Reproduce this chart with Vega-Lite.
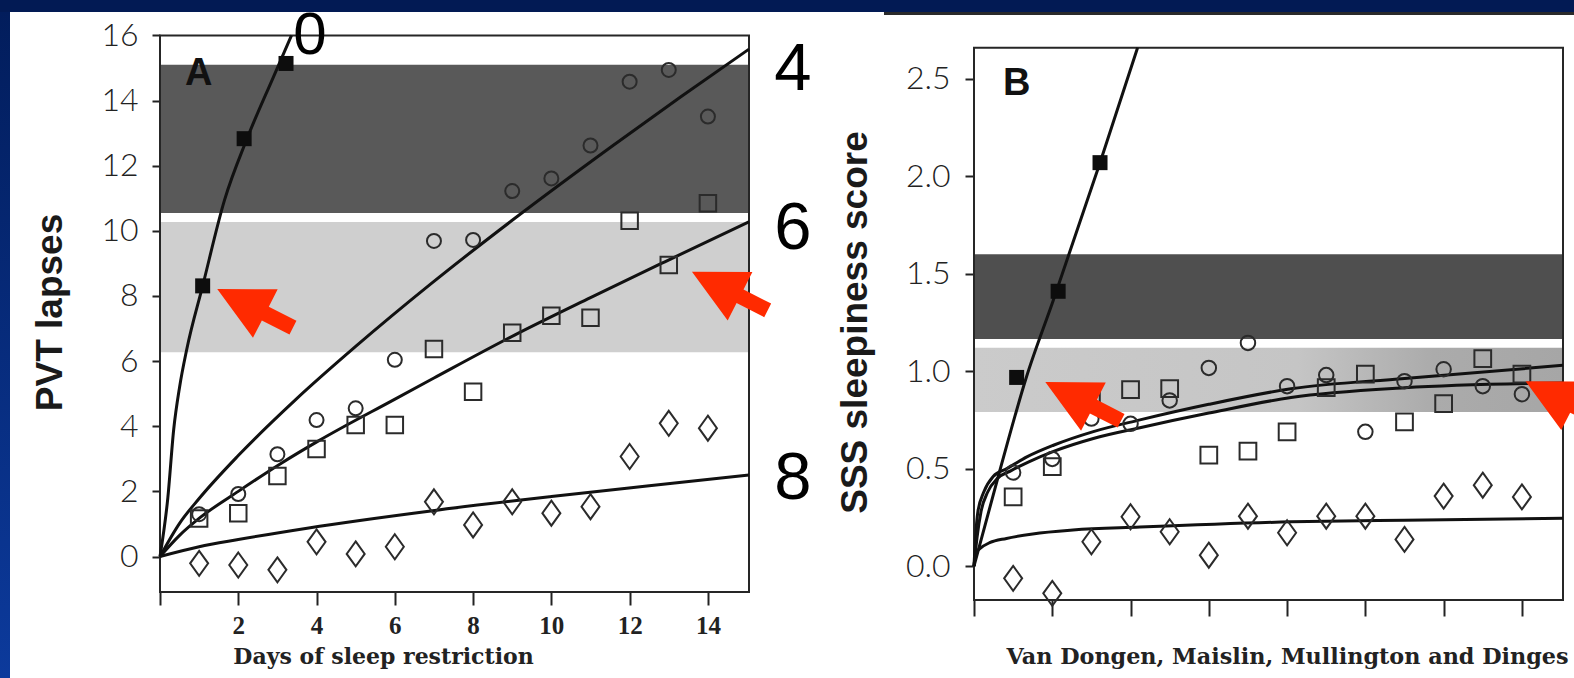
{
  "$schema": "https://vega.github.io/schema/vega-lite/v6.json",
  "padding": 0,
  "background": "white",
  "config": {"view": {"stroke": null}, "font": "Liberation Sans"},
  "datasets": {
    "bandsA": [{"band": "high", "lo": 10.55, "hi": 15.1}, {"band": "mid", "lo": 6.27, "hi": 10.27}],
    "bandsB": [{"band": "high", "lo": 1.165, "hi": 1.6}, {"band": "mid", "lo": 0.79, "hi": 1.12}],
    "ptsA": [
      {"sleep": "0h", "day": 1.09, "value": 8.31}, {"sleep": "0h", "day": 2.15, "value": 12.83}, {"sleep": "0h", "day": 3.22, "value": 15.14},
      {"sleep": "4h", "day": 1, "value": 1.3}, {"sleep": "4h", "day": 2, "value": 1.92}, {"sleep": "4h", "day": 3, "value": 3.14}, {"sleep": "4h", "day": 4, "value": 4.19}, {"sleep": "4h", "day": 5, "value": 4.55}, {"sleep": "4h", "day": 6, "value": 6.04}, {"sleep": "4h", "day": 7, "value": 9.69}, {"sleep": "4h", "day": 8, "value": 9.72}, {"sleep": "4h", "day": 9, "value": 11.22}, {"sleep": "4h", "day": 10, "value": 11.61}, {"sleep": "4h", "day": 11, "value": 12.62}, {"sleep": "4h", "day": 12, "value": 14.58}, {"sleep": "4h", "day": 13, "value": 14.94}, {"sleep": "4h", "day": 14, "value": 13.51},
      {"sleep": "6h", "day": 1, "value": 1.17}, {"sleep": "6h", "day": 2, "value": 1.33}, {"sleep": "6h", "day": 3, "value": 2.47}, {"sleep": "6h", "day": 4, "value": 3.3}, {"sleep": "6h", "day": 5, "value": 4.04}, {"sleep": "6h", "day": 6, "value": 4.04}, {"sleep": "6h", "day": 7, "value": 6.37}, {"sleep": "6h", "day": 8, "value": 5.06}, {"sleep": "6h", "day": 9, "value": 6.87}, {"sleep": "6h", "day": 10, "value": 7.39}, {"sleep": "6h", "day": 11, "value": 7.33}, {"sleep": "6h", "day": 12, "value": 10.31}, {"sleep": "6h", "day": 13, "value": 8.95}, {"sleep": "6h", "day": 14, "value": 10.85},
      {"sleep": "8h", "day": 1, "value": -0.21}, {"sleep": "8h", "day": 2, "value": -0.26}, {"sleep": "8h", "day": 3, "value": -0.41}, {"sleep": "8h", "day": 4, "value": 0.45}, {"sleep": "8h", "day": 5, "value": 0.08}, {"sleep": "8h", "day": 6, "value": 0.3}, {"sleep": "8h", "day": 7, "value": 1.68}, {"sleep": "8h", "day": 8, "value": 0.97}, {"sleep": "8h", "day": 9, "value": 1.68}, {"sleep": "8h", "day": 10, "value": 1.33}, {"sleep": "8h", "day": 11, "value": 1.53}, {"sleep": "8h", "day": 12, "value": 3.07}, {"sleep": "8h", "day": 13, "value": 4.09}, {"sleep": "8h", "day": 14, "value": 3.94}
    ],
    "ptsB": [
      {"sleep": "0h", "day": 1.09, "value": 0.968}, {"sleep": "0h", "day": 2.15, "value": 1.41}, {"sleep": "0h", "day": 3.22, "value": 2.07},
      {"sleep": "4h", "day": 1, "value": 0.48}, {"sleep": "4h", "day": 2, "value": 0.55}, {"sleep": "4h", "day": 3, "value": 0.757}, {"sleep": "4h", "day": 4, "value": 0.73}, {"sleep": "4h", "day": 5, "value": 0.85}, {"sleep": "4h", "day": 6, "value": 1.017}, {"sleep": "4h", "day": 7, "value": 1.145}, {"sleep": "4h", "day": 8, "value": 0.923}, {"sleep": "4h", "day": 9, "value": 0.98}, {"sleep": "4h", "day": 10, "value": 0.689}, {"sleep": "4h", "day": 11, "value": 0.949}, {"sleep": "4h", "day": 12, "value": 1.01}, {"sleep": "4h", "day": 13, "value": 0.923}, {"sleep": "4h", "day": 14, "value": 0.882},
      {"sleep": "6h", "day": 1, "value": 0.355}, {"sleep": "6h", "day": 2, "value": 0.51}, {"sleep": "6h", "day": 3, "value": 0.877}, {"sleep": "6h", "day": 4, "value": 0.906}, {"sleep": "6h", "day": 5, "value": 0.91}, {"sleep": "6h", "day": 6, "value": 0.569}, {"sleep": "6h", "day": 7, "value": 0.59}, {"sleep": "6h", "day": 8, "value": 0.689}, {"sleep": "6h", "day": 9, "value": 0.916}, {"sleep": "6h", "day": 10, "value": 0.985}, {"sleep": "6h", "day": 11, "value": 0.74}, {"sleep": "6h", "day": 12, "value": 0.834}, {"sleep": "6h", "day": 13, "value": 1.065}, {"sleep": "6h", "day": 14, "value": 0.985},
      {"sleep": "8h", "day": 1, "value": -0.063}, {"sleep": "8h", "day": 2, "value": -0.14}, {"sleep": "8h", "day": 3, "value": 0.125}, {"sleep": "8h", "day": 4, "value": 0.253}, {"sleep": "8h", "day": 5, "value": 0.176}, {"sleep": "8h", "day": 6, "value": 0.056}, {"sleep": "8h", "day": 7, "value": 0.256}, {"sleep": "8h", "day": 8, "value": 0.171}, {"sleep": "8h", "day": 9, "value": 0.256}, {"sleep": "8h", "day": 10, "value": 0.256}, {"sleep": "8h", "day": 11, "value": 0.137}, {"sleep": "8h", "day": 12, "value": 0.359}, {"sleep": "8h", "day": 13, "value": 0.415}, {"sleep": "8h", "day": 14, "value": 0.355}
    ],
    "linesA": [
      {"sleep": "0h", "day": 0, "value": 0}, {"sleep": "0h", "day": 0.2, "value": 1.8}, {"sleep": "0h", "day": 0.35, "value": 3.9}, {"sleep": "0h", "day": 0.5, "value": 5.2}, {"sleep": "0h", "day": 0.68, "value": 6.34}, {"sleep": "0h", "day": 1.09, "value": 8.31}, {"sleep": "0h", "day": 1.65, "value": 10.95}, {"sleep": "0h", "day": 2.21, "value": 12.79}, {"sleep": "0h", "day": 2.9, "value": 14.73}, {"sleep": "0h", "day": 3.36, "value": 16.0},
      {"sleep": "4h", "day": 0, "value": 0}, {"sleep": "4h", "day": 0.5, "value": 1.02}, {"sleep": "4h", "day": 1, "value": 1.78}, {"sleep": "4h", "day": 2, "value": 3.1}, {"sleep": "4h", "day": 3.46, "value": 4.81}, {"sleep": "4h", "day": 5, "value": 6.45}, {"sleep": "4h", "day": 6.92, "value": 8.37}, {"sleep": "4h", "day": 9.05, "value": 10.37}, {"sleep": "4h", "day": 11.54, "value": 12.59}, {"sleep": "4h", "day": 13.3, "value": 14.11}, {"sleep": "4h", "day": 15.05, "value": 15.58},
      {"sleep": "6h", "day": 0, "value": 0}, {"sleep": "6h", "day": 0.5, "value": 0.65}, {"sleep": "6h", "day": 1.03, "value": 1.2}, {"sleep": "6h", "day": 2, "value": 2.0}, {"sleep": "6h", "day": 3.08, "value": 2.85}, {"sleep": "6h", "day": 4.05, "value": 3.55}, {"sleep": "6h", "day": 5.97, "value": 4.81}, {"sleep": "6h", "day": 7, "value": 5.48}, {"sleep": "6h", "day": 9.06, "value": 6.8}, {"sleep": "6h", "day": 11, "value": 7.95}, {"sleep": "6h", "day": 12.9, "value": 9.05}, {"sleep": "6h", "day": 15.05, "value": 10.28},
      {"sleep": "8h", "day": 0, "value": 0}, {"sleep": "8h", "day": 1, "value": 0.3}, {"sleep": "8h", "day": 2, "value": 0.52}, {"sleep": "8h", "day": 3.76, "value": 0.87}, {"sleep": "8h", "day": 6.92, "value": 1.4}, {"sleep": "8h", "day": 10, "value": 1.84}, {"sleep": "8h", "day": 12.5, "value": 2.17}, {"sleep": "8h", "day": 15.05, "value": 2.5}
    ],
    "linesB": [
      {"sleep": "0h", "day": 0, "value": 0}, {"sleep": "0h", "day": 0.66, "value": 0.49}, {"sleep": "0h", "day": 1.34, "value": 0.97}, {"sleep": "0h", "day": 2.02, "value": 1.36}, {"sleep": "0h", "day": 3.22, "value": 2.07}, {"sleep": "0h", "day": 4.18, "value": 2.66},
      {"sleep": "6h", "day": 0, "value": 0}, {"sleep": "6h", "day": 0.04, "value": 0.15}, {"sleep": "6h", "day": 0.1, "value": 0.28}, {"sleep": "6h", "day": 0.25, "value": 0.38}, {"sleep": "6h", "day": 0.49, "value": 0.46}, {"sleep": "6h", "day": 0.84, "value": 0.5}, {"sleep": "6h", "day": 1.35, "value": 0.56}, {"sleep": "6h", "day": 2.03, "value": 0.62}, {"sleep": "6h", "day": 3.05, "value": 0.69}, {"sleep": "6h", "day": 4.24, "value": 0.75}, {"sleep": "6h", "day": 6, "value": 0.83}, {"sleep": "6h", "day": 8.1, "value": 0.91}, {"sleep": "6h", "day": 11, "value": 0.963}, {"sleep": "6h", "day": 15.05, "value": 1.03},
      {"sleep": "4h", "day": 0, "value": 0}, {"sleep": "4h", "day": 0.08, "value": 0.15}, {"sleep": "4h", "day": 0.18, "value": 0.28}, {"sleep": "4h", "day": 0.35, "value": 0.38}, {"sleep": "4h", "day": 0.6, "value": 0.45}, {"sleep": "4h", "day": 0.95, "value": 0.49}, {"sleep": "4h", "day": 1.4, "value": 0.535}, {"sleep": "4h", "day": 2.05, "value": 0.59}, {"sleep": "4h", "day": 3.05, "value": 0.655}, {"sleep": "4h", "day": 4.24, "value": 0.71}, {"sleep": "4h", "day": 6, "value": 0.785}, {"sleep": "4h", "day": 8.1, "value": 0.865}, {"sleep": "4h", "day": 11, "value": 0.915}, {"sleep": "4h", "day": 15.05, "value": 0.94},
      {"sleep": "8h", "day": 0, "value": 0}, {"sleep": "8h", "day": 0.05, "value": 0.07}, {"sleep": "8h", "day": 0.15, "value": 0.09}, {"sleep": "8h", "day": 0.4, "value": 0.12}, {"sleep": "8h", "day": 0.83, "value": 0.142}, {"sleep": "8h", "day": 1.5, "value": 0.165}, {"sleep": "8h", "day": 2.53, "value": 0.185}, {"sleep": "8h", "day": 4.24, "value": 0.2}, {"sleep": "8h", "day": 8.1, "value": 0.227}, {"sleep": "8h", "day": 11, "value": 0.235}, {"sleep": "8h", "day": 15.05, "value": 0.245}
    ],
    "notesA": [
      {"kind": "zero", "label": "0", "day": 3.83, "value": 15.42},
      {"kind": "hours", "label": "4", "day": 16.17, "value": 14.33},
      {"kind": "hours", "label": "6", "day": 16.17, "value": 9.44},
      {"kind": "hours", "label": "8", "day": 16.17, "value": 1.76},
      {"kind": "panel", "label": "A", "day": 0.64, "value": 14.48}
    ],
    "notesB": [{"kind": "panel", "label": "B", "day": 0.74, "value": 2.415}],
    "arrowsA": [{"day": 2.43, "value": 7.62}, {"day": 14.56, "value": 8.15}],
    "arrowsB": [{"day": 2.79, "value": 0.845}, {"day": 15.06, "value": 0.849}]
  },
  "spacing": 0,
  "bounds": "flush",
  "vconcat": [
    {
      "width": 1574, "height": 12,
      "data": {"values": [{}]},
      "mark": {"type": "text", "text": ""},
      "view": {"fill": "#021a54", "stroke": null}
    },
    {
      "spacing": 0,
      "bounds": "flush",
      "hconcat": [
        {
          "width": 10, "height": 666,
          "data": {"values": [{}]},
          "mark": {"type": "text", "text": ""},
          "view": {"fill": {"gradient": "linear", "x1": 0, "y1": 0, "x2": 0, "y2": 1, "stops": [{"offset": 0, "color": "#021d5c"}, {"offset": 1, "color": "#0c3a9c"}]}, "stroke": null}
        },
        {
          "width": 150, "height": 666,
          "data": {"values": [{}]},
          "mark": {"type": "text", "text": ""}
        },
        {
          "width": 589, "height": 580,
          "layer": [
            {
              "data": {"name": "bandsA"},
              "transform": [{"filter": "datum.band === 'high'"}],
              "mark": {"type": "rect", "fill": "#595959"},
              "encoding": {
                "x": {"datum": 0, "type": "quantitative"},
                "x2": {"datum": 15.05},
                "y": {"field": "lo", "type": "quantitative"},
                "y2": {"field": "hi"}
              }
            },
            {
              "data": {"name": "bandsA"},
              "transform": [{"filter": "datum.band === 'mid'"}],
              "mark": {"type": "rect", "fill": "#cfcfcf"},
              "encoding": {
                "x": {"datum": 0, "type": "quantitative"},
                "x2": {"datum": 15.05},
                "y": {"field": "lo", "type": "quantitative"},
                "y2": {"field": "hi"}
              }
            },
            {
              "data": {"values": [{}]},
              "mark": {"type": "rect", "fill": "transparent", "stroke": "#262626", "strokeWidth": 2},
              "encoding": {
                "x": {"datum": 0, "type": "quantitative"},
                "x2": {"datum": 15.05},
                "y": {"datum": -1.09, "type": "quantitative"},
                "y2": {"datum": 16}
              }
            },
            {
              "data": {"name": "linesA"},
              "mark": {"type": "line", "stroke": "#111", "strokeWidth": 3, "interpolate": "monotone"},
              "encoding": {
                "x": {"field": "day", "type": "quantitative", "scale": {"domain": [0, 15.05], "nice": false, "zero": false},
                  "axis": {"values": [0, 2, 4, 6, 8, 10, 12, 14], "labelExpr": "datum.value === 0 ? '' : datum.label", "domain": false, "grid": false, "ticks": true, "tickSize": 13, "tickWidth": 2, "tickColor": "#222", "labels": true, "labelFont": "Liberation Serif", "labelFontWeight": "bold", "labelFontSize": 25, "labelColor": "#222", "labelPadding": 8, "labelFlush": false, "labelOverlap": false, "title": "Days of sleep restriction", "titleFont": "DejaVu Serif", "titleFontWeight": "bold", "titleFontSize": 22, "titleColor": "#222", "titleX": 223, "titleY": 71, "titleAlign": "center", "titleBaseline": "alphabetic"}},
                "y": {"field": "value", "type": "quantitative", "scale": {"domain": [-1.09, 16.72], "nice": false, "zero": false},
                  "axis": {"values": [0, 2, 4, 6, 8, 10, 12, 14, 16], "domain": false, "grid": false, "ticks": true, "tickSize": 8, "tickWidth": 2, "tickColor": "#222", "labels": true, "labelFont": "Lato", "labelFontWeight": 300, "labelFontSize": 32, "labelColor": "#222", "labelPadding": 14, "labelFlush": false, "labelOverlap": false, "title": "PVT lapses", "titleFont": "Liberation Sans", "titleFontWeight": "bold", "titleFontSize": 37, "titleColor": "#1a1a1a", "titleX": -110, "titleY": 300, "titleAngle": -90, "titleAlign": "center", "titleBaseline": "middle"}},
                "detail": {"field": "sleep"}
              }
            },
            {
              "data": {"name": "ptsA"},
              "transform": [{"filter": "datum.sleep === '0h'"}],
              "mark": {"type": "point", "shape": "square", "size": 225, "filled": true, "fill": "#0d0d0d", "opacity": 1},
              "encoding": {"x": {"field": "day", "type": "quantitative"}, "y": {"field": "value", "type": "quantitative"}}
            },
            {
              "data": {"name": "ptsA"},
              "transform": [{"filter": "datum.sleep === '4h'"}],
              "mark": {"type": "point", "shape": "circle", "size": 196, "filled": false, "stroke": "#2b2b2b", "strokeWidth": 2, "opacity": 1},
              "encoding": {"x": {"field": "day", "type": "quantitative"}, "y": {"field": "value", "type": "quantitative"}}
            },
            {
              "data": {"name": "ptsA"},
              "transform": [{"filter": "datum.sleep === '6h'"}],
              "mark": {"type": "point", "shape": "square", "size": 272, "filled": false, "stroke": "#2b2b2b", "strokeWidth": 2, "opacity": 1},
              "encoding": {"x": {"field": "day", "type": "quantitative"}, "y": {"field": "value", "type": "quantitative"}}
            },
            {
              "data": {"name": "ptsA"},
              "transform": [{"filter": "datum.sleep === '8h'"}],
              "mark": {"type": "point", "shape": "M 0 -1 L 0.72 0 L 0 1 L -0.72 0 Z", "size": 625, "filled": false, "stroke": "#2b2b2b", "strokeWidth": 2, "opacity": 1},
              "encoding": {"x": {"field": "day", "type": "quantitative"}, "y": {"field": "value", "type": "quantitative"}}
            },
            {
              "data": {"name": "notesA"},
              "transform": [{"filter": "datum.kind === 'zero'"}],
              "mark": {"type": "text", "font": "Liberation Sans", "fontSize": 60, "align": "center", "baseline": "alphabetic", "color": "#000"},
              "encoding": {"x": {"field": "day", "type": "quantitative"}, "y": {"field": "value", "type": "quantitative"}, "text": {"field": "label"}}
            },
            {
              "data": {"name": "notesA"},
              "transform": [{"filter": "datum.kind === 'hours'"}],
              "mark": {"type": "text", "font": "Liberation Sans", "fontSize": 67, "align": "center", "baseline": "alphabetic", "color": "#000"},
              "encoding": {"x": {"field": "day", "type": "quantitative"}, "y": {"field": "value", "type": "quantitative"}, "text": {"field": "label"}}
            },
            {
              "data": {"name": "notesA"},
              "transform": [{"filter": "datum.kind === 'panel'"}],
              "mark": {"type": "text", "font": "Liberation Sans", "fontWeight": "bold", "fontSize": 38, "align": "left", "baseline": "alphabetic", "color": "#111"},
              "encoding": {"x": {"field": "day", "type": "quantitative"}, "y": {"field": "value", "type": "quantitative"}, "text": {"field": "label"}}
            },
            {
              "data": {"name": "arrowsA"},
              "mark": {"type": "point", "shape": "M -1 0 L 0.27 -0.64 L 0.27 -0.18 L 1 -0.18 L 1 0.18 L 0.27 0.18 L 0.27 0.64 Z", "size": 7225, "angle": 27, "filled": true, "fill": "#ff2a00", "strokeWidth": 0, "opacity": 1},
              "encoding": {"x": {"field": "day", "type": "quantitative"}, "y": {"field": "value", "type": "quantitative"}}
            }
          ]
        },
        {
          "width": 225, "height": 666,
          "data": {"values": [{}]},
          "mark": {"type": "text", "text": ""}
        },
        {
          "width": 589, "height": 588,
          "layer": [
            {
              "data": {"name": "bandsB"},
              "transform": [{"filter": "datum.band === 'high'"}],
              "mark": {"type": "rect", "fill": "#4f4f4f"},
              "encoding": {
                "x": {"datum": 0, "type": "quantitative"},
                "x2": {"datum": 15.05},
                "y": {"field": "lo", "type": "quantitative"},
                "y2": {"field": "hi"}
              }
            },
            {
              "data": {"name": "bandsB"},
              "transform": [{"filter": "datum.band === 'mid'"}],
              "mark": {"type": "rect", "fill": {"gradient": "linear", "x1": 0, "y1": 0, "x2": 1, "y2": 0, "stops": [{"offset": 0, "color": "#cbcbcb"}, {"offset": 0.55, "color": "#c5c5c5"}, {"offset": 0.78, "color": "#ababab"}, {"offset": 1, "color": "#a6a6a6"}]}},
              "encoding": {
                "x": {"datum": 0, "type": "quantitative"},
                "x2": {"datum": 15.05},
                "y": {"field": "lo", "type": "quantitative"},
                "y2": {"field": "hi"}
              }
            },
            {
              "data": {"values": [{}]},
              "mark": {"type": "rect", "fill": "transparent", "stroke": "#262626", "strokeWidth": 2},
              "encoding": {
                "x": {"datum": 0, "type": "quantitative"},
                "x2": {"datum": 15.05},
                "y": {"datum": -0.174, "type": "quantitative"},
                "y2": {"datum": 2.66}
              }
            },
            {
              "data": {"values": [{}]},
              "mark": {"type": "rule", "stroke": "#2a2a2a", "strokeWidth": 3},
              "encoding": {
                "x": {"datum": -2.3, "type": "quantitative"},
                "x2": {"datum": 15.4},
                "y": {"datum": 2.835, "type": "quantitative"}
              }
            },
            {
              "data": {"name": "linesB"},
              "mark": {"type": "line", "stroke": "#111", "strokeWidth": 3, "interpolate": "monotone"},
              "encoding": {
                "x": {"field": "day", "type": "quantitative", "scale": {"domain": [0, 15.05], "nice": false, "zero": false},
                  "axis": {"values": [0, 2, 4, 6, 8, 10, 12, 14], "labels": false, "domain": false, "grid": false, "ticks": true, "tickSize": 16, "tickWidth": 2, "tickColor": "#222", "title": "Van Dongen, Maislin, Mullington and Dinges", "titleFont": "DejaVu Serif", "titleFontWeight": "bold", "titleFontSize": 22.3, "titleColor": "#222", "titleX": 32, "titleY": 63, "titleAlign": "left", "titleBaseline": "alphabetic"}},
                "y": {"field": "value", "type": "quantitative", "scale": {"domain": [-0.174, 2.843], "nice": false, "zero": false},
                  "axis": {"values": [0, 0.5, 1, 1.5, 2, 2.5], "format": ".1f", "domain": false, "grid": false, "ticks": true, "tickSize": 9, "tickWidth": 2, "tickColor": "#222", "labels": true, "labelFont": "Lato", "labelFontWeight": 300, "labelFontSize": 32, "labelColor": "#222", "labelPadding": 15, "labelFlush": false, "labelOverlap": false, "title": "SSS sleepiness score", "titleFont": "Liberation Sans", "titleFontWeight": "bold", "titleFontSize": 37, "titleColor": "#1a1a1a", "titleX": -119, "titleY": 310, "titleAngle": -90, "titleAlign": "center", "titleBaseline": "middle"}},
                "detail": {"field": "sleep"}
              }
            },
            {
              "data": {"name": "ptsB"},
              "transform": [{"filter": "datum.sleep === '0h'"}],
              "mark": {"type": "point", "shape": "square", "size": 225, "filled": true, "fill": "#0d0d0d", "opacity": 1},
              "encoding": {"x": {"field": "day", "type": "quantitative"}, "y": {"field": "value", "type": "quantitative"}}
            },
            {
              "data": {"name": "ptsB"},
              "transform": [{"filter": "datum.sleep === '4h'"}],
              "mark": {"type": "point", "shape": "circle", "size": 210, "filled": false, "stroke": "#2b2b2b", "strokeWidth": 2, "opacity": 1},
              "encoding": {"x": {"field": "day", "type": "quantitative"}, "y": {"field": "value", "type": "quantitative"}}
            },
            {
              "data": {"name": "ptsB"},
              "transform": [{"filter": "datum.sleep === '6h'"}],
              "mark": {"type": "point", "shape": "square", "size": 280, "filled": false, "stroke": "#2b2b2b", "strokeWidth": 2, "opacity": 1},
              "encoding": {"x": {"field": "day", "type": "quantitative"}, "y": {"field": "value", "type": "quantitative"}}
            },
            {
              "data": {"name": "ptsB"},
              "transform": [{"filter": "datum.sleep === '8h'"}],
              "mark": {"type": "point", "shape": "M 0 -1 L 0.72 0 L 0 1 L -0.72 0 Z", "size": 625, "filled": false, "stroke": "#2b2b2b", "strokeWidth": 2, "opacity": 1},
              "encoding": {"x": {"field": "day", "type": "quantitative"}, "y": {"field": "value", "type": "quantitative"}}
            },
            {
              "data": {"name": "notesB"},
              "mark": {"type": "text", "font": "Liberation Sans", "fontWeight": "bold", "fontSize": 38, "align": "left", "baseline": "alphabetic", "color": "#111"},
              "encoding": {"x": {"field": "day", "type": "quantitative"}, "y": {"field": "value", "type": "quantitative"}, "text": {"field": "label"}}
            },
            {
              "data": {"name": "arrowsB"},
              "mark": {"type": "point", "shape": "M -1 0 L 0.27 -0.64 L 0.27 -0.18 L 1 -0.18 L 1 0.18 L 0.27 0.18 L 0.27 0.64 Z", "size": 7225, "angle": 27, "filled": true, "fill": "#ff2a00", "strokeWidth": 0, "opacity": 1},
              "encoding": {"x": {"field": "day", "type": "quantitative"}, "y": {"field": "value", "type": "quantitative"}}
            }
          ]
        }
      ]
    }
  ]
}
